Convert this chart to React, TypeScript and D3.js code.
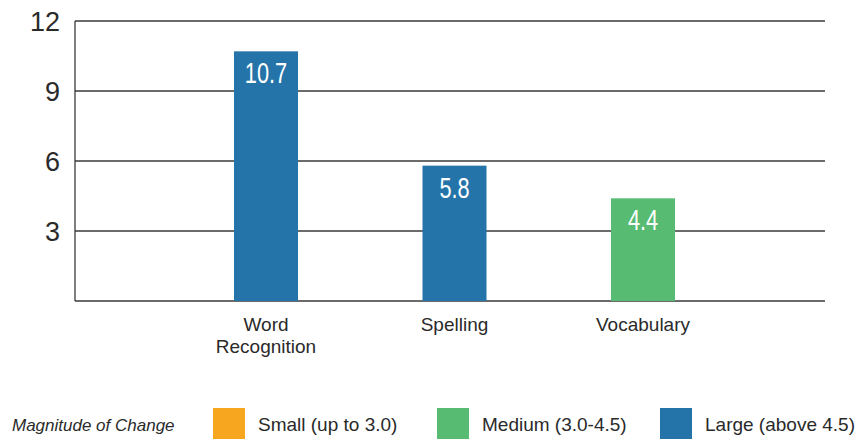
import React, { useEffect, useRef } from 'react';
import * as d3 from 'd3';

const categories = ['Word Recognition', 'Spelling', 'Vocabulary'];
const values = [10.7, 5.8, 4.4];
const levels = ['Large', 'Large', 'Medium'];
const yTicks = [3, 6, 9, 12];
const legendLabels = ['Small (up to 3.0)', 'Medium (3.0-4.5)', 'Large (above 4.5)'];
const legendKeys = ['Small', 'Medium', 'Large'];

const colorOf: Record<string, string> = {
  Small: '#f6a71f',
  Medium: '#57bb72',
  Large: '#2474a9',
};

const W = 860;
const H = 439;
const margin = { top: 21, right: 35, bottom: 138, left: 75 };
const FONT = "'Liberation Sans', 'DejaVu Sans', sans-serif";

export default function App() {
  const ref = useRef<SVGSVGElement>(null);

  useEffect(() => {
    if (!ref.current) return;
    const svg = d3.select(ref.current);
    svg.selectAll('*').remove();

    const x = d3.scalePoint<string>()
      .domain(categories)
      .range([266, 643]);

    const y = d3.scaleLinear()
      .domain([0, 12])
      .range([H - margin.bottom, margin.top]);

    const bw = 64;

    // gridlines
    svg.append('g')
      .selectAll('line')
      .data([0, ...yTicks])
      .join('line')
      .attr('x1', margin.left)
      .attr('x2', W - margin.right)
      .attr('y1', d => y(d))
      .attr('y2', d => y(d))
      .attr('stroke', '#3a3a3a')
      .attr('stroke-width', 1.3);

    // left axis line
    svg.append('line')
      .attr('x1', margin.left)
      .attr('x2', margin.left)
      .attr('y1', y(12))
      .attr('y2', y(0))
      .attr('stroke', '#3a3a3a')
      .attr('stroke-width', 1.3);

    // y tick labels
    svg.append('g')
      .selectAll('text')
      .data(yTicks)
      .join('text')
      .attr('x', 60)
      .attr('y', d => y(d))
      .attr('dy', '0.36em')
      .attr('text-anchor', 'end')
      .attr('font-family', FONT)
      .attr('font-size', 27)
      .attr('fill', '#2a2a2a')
      .text(d => d);

    // bars
    svg.append('g')
      .selectAll('rect')
      .data(values)
      .join('rect')
      .attr('x', (_, i) => (x(categories[i]) || 0) - bw / 2)
      .attr('y', d => y(d))
      .attr('width', bw)
      .attr('height', d => y(0) - y(d))
      .attr('fill', (_, i) => colorOf[levels[i]]);

    // value labels (condensed look via horizontal scale)
    svg.append('g')
      .selectAll('text')
      .data(values)
      .join('text')
      .attr('transform', (d, i) => `translate(${x(categories[i]) || 0},${y(d) + 32}) scale(0.75,1)`)
      .attr('text-anchor', 'middle')
      .attr('font-family', FONT)
      .attr('font-size', 29)
      .attr('fill', '#fff')
      .text(d => d.toFixed(1));

    // category labels
    const cat = svg.append('g')
      .selectAll('text')
      .data(categories)
      .join('text')
      .attr('x', d => x(d) || 0)
      .attr('y', 331)
      .attr('text-anchor', 'middle')
      .attr('font-family', FONT)
      .attr('font-size', 19)
      .attr('fill', '#2a2a2a');
    cat.each(function (d) {
      const words = d === 'Word Recognition' ? ['Word', 'Recognition'] : [d];
      d3.select(this)
        .selectAll('tspan')
        .data(words)
        .join('tspan')
        .attr('x', x(d) || 0)
        .attr('dy', (_, i) => (i === 0 ? 0 : 22))
        .text(w => w);
    });

    // legend
    const lg = svg.append('g');
    lg.append('text')
      .attr('x', 12)
      .attr('y', 431)
      .attr('font-family', FONT)
      .attr('font-style', 'italic')
      .attr('font-size', 17)
      .attr('fill', '#2a2a2a')
      .text('Magnitude of Change');

    const lx = [213, 437, 660];
    legendKeys.forEach((k, i) => {
      lg.append('rect')
        .attr('x', lx[i])
        .attr('y', 408)
        .attr('width', 32)
        .attr('height', 31)
        .attr('fill', colorOf[k]);
      lg.append('text')
        .attr('x', lx[i] + 45)
        .attr('y', 431)
        .attr('font-family', FONT)
        .attr('font-size', 19)
        .attr('fill', '#2a2a2a')
        .text(legendLabels[i]);
    });
  }, []);

  return (
    <div style={{ position: 'absolute', left: 0, top: 0 }}>
      <svg ref={ref} width={W} height={H} style={{ display: 'block', background: '#fff' }} />
    </div>
  );
}
